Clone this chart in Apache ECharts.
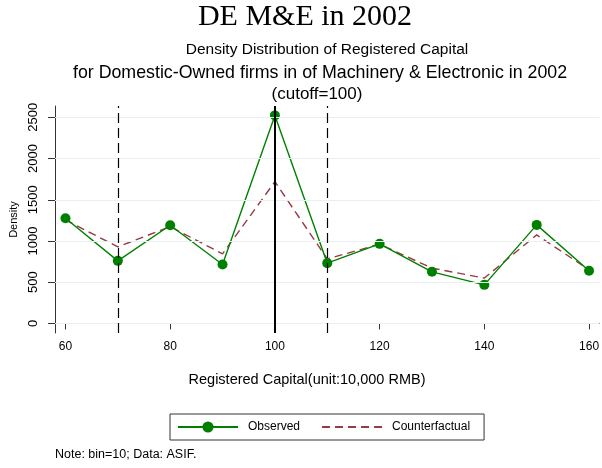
<!DOCTYPE html>
<html>
<head>
<meta charset="utf-8">
<script src="https://cdn.jsdelivr.net/npm/echarts@6/dist/echarts.min.js"></script>
<style>html,body{margin:0;padding:0;background:#fff}#c{width:602px;height:468px}</style>
</head>
<body>
<div id="c"></div>
<script>
var bins = [60, 70, 80, 90, 100, 110, 120, 130, 140, 150, 160];
var observed = [1276, 759, 1191, 714, 2523, 731, 965, 626, 468, 1195, 638];
var counterfactual = [1255, 929, 1174, 844, 1719, 783, 961, 671, 550, 1074, 650];
var xTicks = [60, 80, 100, 120, 140, 160];
var yTicks = [0, 500, 1000, 1500, 2000, 2500];
var cutoff = 100;
var bandLines = [70, 110];

var chart = echarts.init(document.getElementById('c'), null, {renderer: 'canvas'});
var F = 'Liberation Sans, Arial, sans-serif';
var option = {
  animation: false,
  backgroundColor: '#fff',
  grid: {left: 52, right: 0, top: 106, bottom: 135, containLabel: false},
  xAxis: {
    type: 'value', min: 58, max: 162,
    axisLine: {show: true, lineStyle: {color: '#333', width: 1}},
    axisTick: {show: true, length: 6, customValues: xTicks, lineStyle: {color: '#333'}},
    axisLabel: {customValues: xTicks, fontFamily: F, fontSize: 12, color: '#000', margin: 8,
      formatter: function (v) { return String(v); }},
    splitLine: {show: false}
  },
  yAxis: {
    type: 'value', min: -116, max: 2637,
    axisLine: {show: true, lineStyle: {color: '#333', width: 1}},
    axisTick: {show: true, length: 7, customValues: yTicks, lineStyle: {color: '#333'}},
    axisLabel: {customValues: yTicks, rotate: 90, fontFamily: F, fontSize: 13, color: '#000', margin: 15,
      formatter: function (v) { return String(v); }},
    splitLine: {show: false},
    name: 'Density', nameLocation: 'middle', nameRotate: 90, nameGap: 36,
    nameTextStyle: {fontFamily: F, fontSize: 11, color: '#000'}
  },
  legend: {
    data: ['Observed', {name: 'Counterfactual', itemStyle: {opacity: 0}}],
    left: 170, top: 414,
    orient: 'horizontal',
    itemWidth: 60, itemHeight: 14, itemGap: 21,
    padding: [7, 14, 7, 7],
    borderColor: '#333', borderWidth: 1,
    textStyle: {fontFamily: F, fontSize: 12, color: '#000', padding: [0, 0, 0, 5]}
  },
  graphic: [
    {type: 'text', x: 305, y: 17, style: {text: 'DE M&E in 2002', font: '30px "Liberation Serif", "Times New Roman", serif', fill: '#000', textAlign: 'center', textVerticalAlign: 'middle'}},
    {type: 'text', x: 327, y: 50, style: {text: 'Density Distribution of Registered Capital', font: '15.5px ' + F, fill: '#000', textAlign: 'center', textVerticalAlign: 'middle'}},
    {type: 'text', x: 320, y: 73, style: {text: 'for Domestic-Owned firms in of Machinery & Electronic in 2002', font: '17.8px ' + F, fill: '#000', textAlign: 'center', textVerticalAlign: 'middle'}},
    {type: 'text', x: 317, y: 94, style: {text: '(cutoff=100)', font: '17px ' + F, fill: '#000', textAlign: 'center', textVerticalAlign: 'middle'}},
    {type: 'text', x: 307, y: 380, style: {text: 'Registered Capital(unit:10,000 RMB)', font: '14.5px ' + F, fill: '#000', textAlign: 'center', textVerticalAlign: 'middle'}},
    {type: 'text', x: 55, y: 455, style: {text: 'Note: bin=10; Data: ASIF.', font: '12.5px ' + F, fill: '#000', textAlign: 'left', textVerticalAlign: 'middle'}}
  ],
  series: [
    {
      name: 'grid', type: 'line', data: [], z: 1, silent: true,
      markLine: {
        silent: true, symbol: 'none', animation: false,
        label: {show: false},
        lineStyle: {color: '#e8f0f2', width: 1, type: 'solid'},
        data: yTicks.map(function (v) { return {yAxis: v}; })
      }
    },
    {
      name: 'refs', type: 'line', data: [], z: 2, silent: true,
      markLine: {
        silent: true, symbol: 'none', animation: false,
        label: {show: false},
        data: bandLines.map(function (v) {
          return {xAxis: v, lineStyle: {color: '#000', width: 1.2, type: [10, 5]}};
        }).concat([{xAxis: cutoff, lineStyle: {color: '#000', width: 2, type: 'solid'}}])
      }
    },
    {
      name: 'Counterfactual', type: 'line', z: 3,
      data: bins.map(function (b, i) { return [b, counterfactual[i]]; }),
      symbol: 'none', showSymbol: false,
      lineStyle: {color: '#983a45', width: 1.4, type: [8, 5]},
      itemStyle: {color: '#983a45'}
    },
    {
      name: 'Observed', type: 'line', z: 4,
      data: bins.map(function (b, i) { return [b, observed[i]]; }),
      symbol: 'circle', symbolSize: 10,
      lineStyle: {color: '#008000', width: 1.4},
      itemStyle: {color: '#008000'}
    }
  ]
};
chart.setOption(option);
</script>
</body>
</html>
